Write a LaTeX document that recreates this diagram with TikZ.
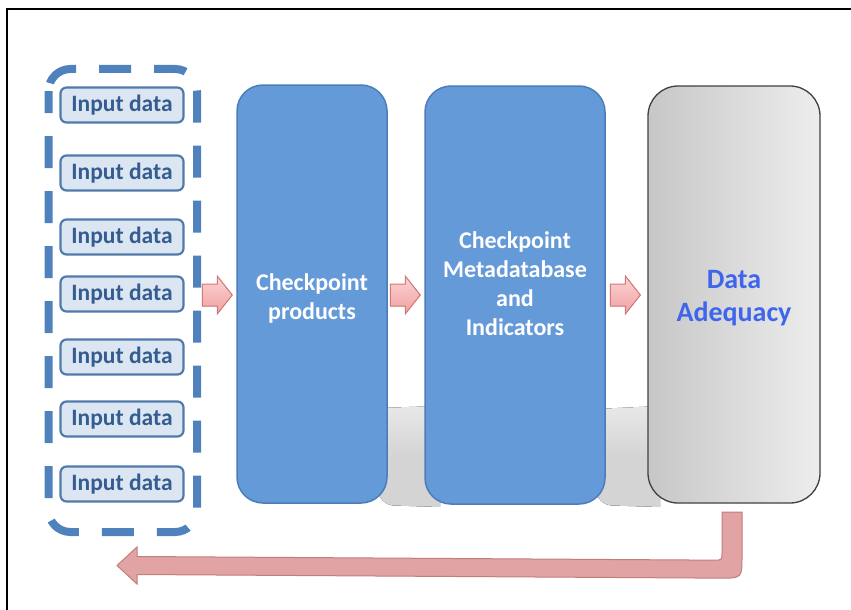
\documentclass[tikz,border=0pt]{standalone}
\usepackage{fontspec}
\setmainfont{Carlito}
\usetikzlibrary{calc}
\definecolor{boxblue}{RGB}{101,154,216}
\definecolor{boxedge}{RGB}{74,125,186}
\definecolor{dashblue}{RGB}{79,129,189}
\definecolor{infill}{RGB}{220,230,242}
\definecolor{inedge}{RGB}{80,122,170}
\definecolor{intext}{RGB}{52,92,145}
\definecolor{adtext}{RGB}{62,102,236}
\definecolor{pinkA}{RGB}{252,212,212}
\definecolor{pinkB}{RGB}{240,160,160}
\definecolor{pinkedge}{RGB}{210,120,120}
\definecolor{retfill}{RGB}{225,163,163}
\definecolor{retedge}{RGB}{195,125,125}
\definecolor{shadowgray}{RGB}{212,212,212}
\definecolor{shadowtop}{RGB}{232,232,232}
\tikzset{
  inbox/.style={draw=inedge, line width=2.2pt, fill=infill, rounded corners=6pt,
    minimum width=123pt, minimum height=35pt, inner sep=0pt,
    font=\bfseries\fontsize{23.5}{28}\selectfont, text=intext},
  bigbox/.style={draw=boxedge, line width=1.5pt, fill=boxblue, rounded corners=26pt,
    minimum height=418pt, inner sep=0pt},
  bigtext/.style={font=\bfseries\fontsize{24}{29}\selectfont, text=white, align=center},
  adbox/.style={draw=black!75, line width=1.3pt, left color=black!22, right color=black!7,
    rounded corners=30pt, minimum height=417pt, inner sep=0pt},
  adtextstyle/.style={font=\bfseries\fontsize{28}{33}\selectfont, text=adtext, align=center},
  pinkarrow/.style={draw=pinkedge, line width=1pt, top color=pinkA, bottom color=pinkB, line join=miter},
  groupbox/.style={draw=dashblue, line width=8pt, rounded corners=22pt, dash pattern=on 32pt off 23pt, dash phase=10pt},
  gapshadow/.style={top color=shadowtop, bottom color=shadowgray, middle color=shadowgray},
  frame/.style={line width=2.5pt, black}
}
% block arrow ending at #1 (tip), pointing right
\newcommand\pinkblockarrow[1]{%
  \fill[pinkarrow] ($(#1)+(-30,-11)$) -- ($(#1)+(-15,-11)$) -- ($(#1)+(-15,-19)$) -- (#1)
    -- ($(#1)+(-15,19)$) -- ($(#1)+(-15,11)$) -- ($(#1)+(-30,11)$) -- cycle;}
\begin{document}
\begin{tikzpicture}[x=1pt,y=-1pt]
\useasboundingbox (0,0) rectangle (851,610);
% frame
\draw[frame] (7,610) -- (7,9) -- (851,9);

% shadows visible in the gaps
\fill[gapshadow] (378,408) -- (440,406) -- (440,507) [rounded corners=16pt] -- (378,505) [sharp corners] -- cycle;
\fill[gapshadow] (596,409) -- (660,406) -- (660,507) [rounded corners=16pt] -- (596,505) [sharp corners] -- cycle;

% dashed group
\draw[groupbox] (48.5,69) rectangle (197,532);

% input boxes
\foreach \i/\y in {1/105,2/173,3/237,4/294,5/357,6/419,7/484}
  \node[inbox] (in\i) at (122,\y) {Input data};

% big boxes
\node[bigbox, minimum width=150pt] (cp) at (312,294) {};
\node[bigtext] (cpt) at ($(cp.center)+(0,4)$) {Checkpoint\\products};
\node[bigbox, minimum width=180pt] (md) at (515,295) {};
\node[bigtext] (mdt) at ($(md.center)+(0,-11)$) {Checkpoint\\Metadatabase\\and\\Indicators};
\node[adbox, minimum width=172pt] (ad) at (734,294.5) {};
\node[adtextstyle] (adt) at ($(ad.center)+(0,4)$) {Data\\Adequacy};

% small block arrows between stages
\coordinate (t1) at ($(cp.west)+(-4,1)$);
\coordinate (t2) at ($(md.west)+(-4,0)$);
\coordinate (t3) at ($(ad.west)+(-7,0.5)$);
\pinkblockarrow{t1}
\pinkblockarrow{t2}
\pinkblockarrow{t3}

% return arrow
\coordinate (r1) at ($(ad.south)+(-12,8.5)$);
\coordinate (r2) at ($(ad.south)+(8,8.5)$);
\coordinate (tip) at (117,565.5);
\fill[retfill, draw=retedge, line width=1pt]
  (r1) -- (r2) -- ($(r2)+(0,44)$) .. controls ($(r2)+(0,66)$) .. ($(r2)+(-22,66)$)
  -- (137,574.5) -- (137,584) -- (tip) -- (137,547) -- (137,556.5)
  -- ($(r1)+(-8,48)$) .. controls ($(r1)+(0,48)$) .. ($(r1)+(0,40)$) -- cycle;
\end{tikzpicture}
\end{document}
